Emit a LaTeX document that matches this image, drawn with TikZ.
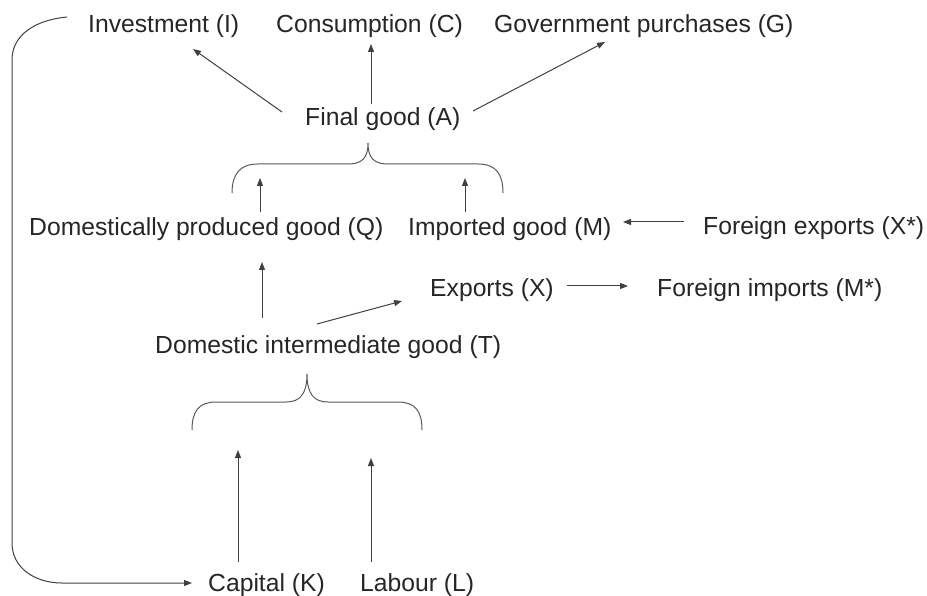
\documentclass[tikz,border=0pt]{standalone}
\usepackage{fontspec}
\setmainfont{Liberation Sans}
\usetikzlibrary{arrows.meta,calc}

\begin{document}
\begin{tikzpicture}[
    x=1pt, y=-1pt,
    lbl/.style={anchor=base west, inner sep=0pt,
                font=\fontsize{24.7}{30}\selectfont, text=black!85},
    flow/.style={-{Triangle[length=8pt,width=6pt]}, draw=black!75,
                 line width=1pt},
    bracket/.style={draw=black!65, line width=1pt},
  ]
  \useasboundingbox (0,0) rectangle (927,596);

  %% Uses of the final good
  \node[lbl] (I) at (88,33) {Investment (I)};
  \node[lbl] (C) at (276,33) {Consumption (C)};
  \node[lbl] (G) at (494,33) {Government purchases (G)};
  \node[lbl] (A) at (305,126) {Final good (A)};

  %% Components of the final good
  \node[lbl] (Q) at (29,236) {Domestically produced good (Q)};
  \node[lbl] (M) at (408,236) {Imported good (M)};
  \node[lbl] (Xf) at (703,235) {Foreign exports (X*)};

  %% Trade
  \node[lbl] (X) at (430,297) {Exports (X)};
  \node[lbl] (Mf) at (657,297) {Foreign imports (M*)};

  %% Intermediate good and factors
  \node[lbl] (T) at (155,353) {Domestic intermediate good (T)};
  \node[lbl] (K) at (208,591) {Capital (K)};
  \node[lbl] (L) at (360,591) {Labour (L)};

  %% Final good -> uses
  \draw[flow] ($(A.base west)+(-23,-14)$) -- ($(I.base west)+(105,16)$);
  \draw[flow] ($(A.base west)+(66,-22)$) -- ($(C.base west)+(95,11)$);
  \draw[flow] ($(A.base west)+(168,-15)$) -- ($(G.base west)+(111,9)$);

  %% Upper bracket
  \draw[bracket] (232,193) .. controls (232,174) and (240,164) .. (258,164)
    -- (348,164) .. controls (362,164) and (368,158) .. (368,143)
    .. controls (368,158) and (374,164) .. (388,164)
    -- (478,164) .. controls (496,164) and (503,174) .. (503,193);
  \draw[flow] ($(Q.base west)+(231,-24)$) -- ($(Q.base west)+(231,-58)$);
  \draw[flow] ($(M.base west)+(57,-24)$) -- ($(M.base west)+(57,-58)$);

  %% Foreign trade
  \draw[flow] ($(Xf.base west)+(-19,-13)$) -- ($(M.base west)+(215,-14)$);
  \draw[flow] ($(X.base west)+(137,-11)$) -- ($(Mf.base west)+(-29,-11)$);

  %% Intermediate good -> domestic good and exports
  \draw[flow] ($(T.base west)+(107,-35)$) -- ($(Q.base west)+(233,26)$);
  \draw[flow] ($(T.base west)+(162,-29)$) -- ($(X.base west)+(-28,4)$);

  %% Lower bracket
  \draw[bracket] (192,430) .. controls (192,411) and (199,402) .. (216,402)
    -- (286,402) .. controls (300,402) and (307,394) .. (307,374)
    .. controls (307,394) and (314,402) .. (328,402)
    -- (398,402) .. controls (415,402) and (422,411) .. (422,430);
  \draw[flow] ($(K.base west)+(30,-29)$) -- ($(K.base west)+(30,-141)$);
  \draw[flow] ($(L.base west)+(11,-29)$) -- ($(L.base west)+(11,-133)$);

  %% Investment feeds back into capital
  \draw[flow] ($(I.base west)+(-21,-16)$) .. controls (35,20) and (12,35) .. (12,60)
    -- (12,543) .. controls (12,568) and (35,583) .. (62,583)
    -- ($(K.base west)+(-16,-8)$);

\end{tikzpicture}
\end{document}
